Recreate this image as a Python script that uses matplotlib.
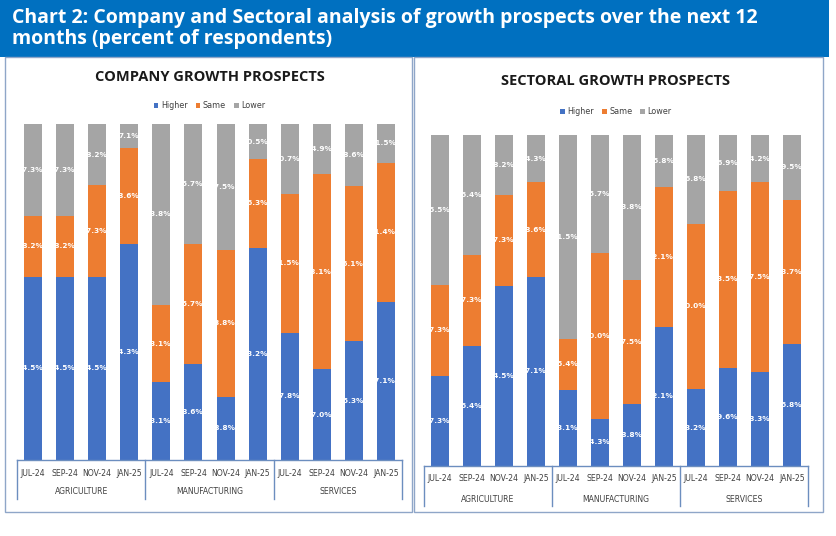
import matplotlib.pyplot as plt
import matplotlib.transforms as mtransforms
from matplotlib.patches import Rectangle

# periods and sectors shared by both panels
periods = ['JUL-24', 'SEP-24', 'NOV-24', 'JAN-25']
sectors = ['AGRICULTURE', 'MANUFACTURING', 'SERVICES']

# company growth prospects (agriculture, manufacturing, services x 4 periods)
company_higher = [54.5, 54.5, 54.5, 64.3, 23.1, 28.6, 18.8, 63.2, 37.8, 27.0, 35.3, 47.1]
company_same = [18.2, 18.2, 27.3, 28.6, 23.1, 35.7, 43.8, 26.3, 41.5, 58.1, 46.1, 41.4]
company_lower = [27.3, 27.3, 18.2, 7.1, 53.8, 35.7, 37.5, 10.5, 20.7, 14.9, 18.6, 11.5]

# sectoral growth prospects
sector_higher = [27.3, 36.4, 54.5, 57.1, 23.1, 14.3, 18.8, 42.1, 23.2, 29.6, 28.3, 36.8]
sector_same = [27.3, 27.3, 27.3, 28.6, 15.4, 50.0, 37.5, 42.1, 50.0, 53.5, 57.5, 43.7]
sector_lower = [45.5, 36.4, 18.2, 14.3, 61.5, 35.7, 43.8, 15.8, 26.8, 16.9, 14.2, 19.5]

series_names = ['Higher', 'Same', 'Lower']
colors = ['#4472C4', '#ED7D31', '#A5A5A5']
line_col = '#6C8EBF'

W, H = 837, 536
fig = plt.figure(figsize=(W / 100, H / 100), dpi=100)


def px_rect(x0, y0, x1, y1):
    # pixel box (top-left origin) -> figure fraction [l, b, w, h]
    return [x0 / W, 1 - y1 / H, (x1 - x0) / W, (y1 - y0) / H]


# header band
fig.patches.append(Rectangle((0, 1 - 57 / H), 829 / W, 57 / H, transform=fig.transFigure,
                             facecolor='#0070C0', edgecolor='none', zorder=0))
fig.text(12 / W, 1 - 18 / H, 'Chart 2: Company and Sectoral analysis of growth prospects over the next 12',
         color='white', fontsize=14, fontweight='bold', family='Open Sans', va='center')
fig.text(12 / W, 1 - 39 / H, 'months (percent of respondents)',
         color='white', fontsize=14, fontweight='bold', family='Open Sans', va='center')

# panel frames
for x0, x1 in [(5, 412), (414, 823)]:
    fig.patches.append(Rectangle((x0 / W, 1 - 512 / H), (x1 - x0) / W, (512 - 57) / H,
                                 transform=fig.transFigure, facecolor='none',
                                 edgecolor='#8FA6C8', linewidth=1.0, zorder=0))


def draw_panel(box, higher, same, lower, title, title_y, legend_y, sep_low, tick_y, grp_y):
    ax = fig.add_axes(px_rect(*box))
    x = list(range(len(higher)))
    width = 0.5625
    bottoms = [0.0] * len(x)
    for vals, name, col in zip([higher, same, lower], series_names, colors):
        ax.bar(x, vals, width, bottom=bottoms, color=col, label=name, zorder=2)
        for xi, b, v in zip(x, bottoms, vals):
            # white labels overflow the bar; the part over the white gap disappears
            ax.text(xi + width / 2 + 0.03, b + v / 2, f'{v:.1f}%', color='white',
                    fontsize=5.3, fontweight='bold', ha='right', va='center', zorder=3)
        bottoms = [b + v for b, v in zip(bottoms, vals)]
    ax.set_xlim(-0.5, 11.5)
    ax.set_ylim(0, 100)
    ax.set_xticks([])
    ax.set_yticks([])
    for s in ax.spines.values():
        s.set_visible(False)
    ax.axhline(0, color=line_col, linewidth=1.0, zorder=4, clip_on=False)

    trans = mtransforms.blended_transform_factory(ax.transData, ax.transAxes)
    for sx in [-0.5, 3.5, 7.5, 11.5]:
        ax.plot([sx, sx], [0, sep_low], color=line_col, linewidth=1.0,
                transform=trans, clip_on=False)
    for i, xi in enumerate(x):
        ax.text(xi, tick_y, periods[i % 4], transform=trans, ha='center', va='center',
                fontsize=5.6, color='#404040')
    for g, name in enumerate(sectors):
        ax.text(4 * g + 1.5, grp_y, name, transform=trans, ha='center', va='center',
                fontsize=5.6, color='#404040')

    cx = (box[0] + box[2]) / 2
    fig.text(cx / W, 1 - title_y / H, title, ha='center', va='center', fontsize=10.5,
             fontweight='bold', color='#1a1a1a', family='Open Sans')
    leg = ax.legend(loc='center', bbox_to_anchor=(cx / W, 1 - legend_y / H),
                    bbox_transform=fig.transFigure, ncol=3, frameon=False, fontsize=5.8,
                    handlelength=0.6, handleheight=0.6, handletextpad=0.3, columnspacing=1.0)
    for t in leg.get_texts():
        t.set_color('#404040')
    return ax


draw_panel((17, 124, 402, 460), company_higher, company_same, company_lower,
           'COMPANY GROWTH PROSPECTS', 77, 106, -0.116, -0.039, -0.095)
draw_panel((424, 135, 808, 466), sector_higher, sector_same, sector_lower,
           'SECTORAL GROWTH PROSPECTS', 81, 112, -0.121, -0.039, -0.1)

fig.savefig('out.png', dpi=100)
